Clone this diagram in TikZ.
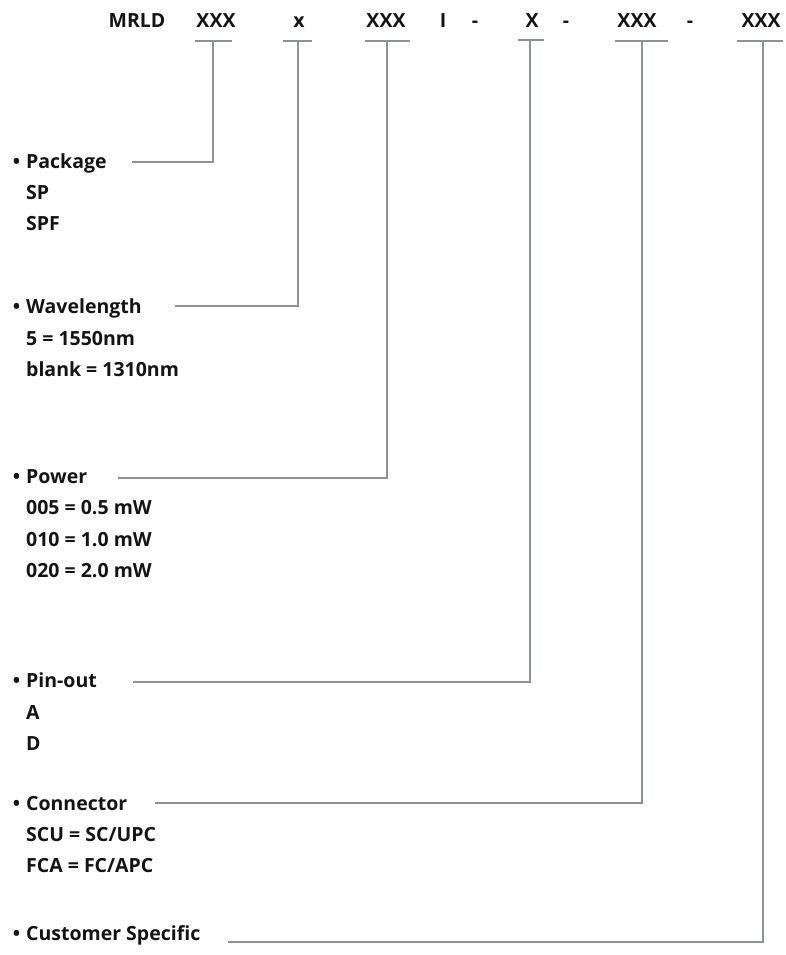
\documentclass[tikz,border=0pt]{standalone}
\usepackage{fontspec}
\setmainfont{Open Sans}
\usepackage{tikz}
\usetikzlibrary{positioning}
\definecolor{leadgray}{RGB}{140,146,152}
\definecolor{codeblack}{RGB}{20,20,20}

\begin{document}
\begin{tikzpicture}[x=1pt, y=-1pt, font=\fontsize{19.5}{22}\selectfont\bfseries, text=codeblack,
  field/.style={anchor=base, inner sep=0pt},
  item/.style={anchor=base west, inner sep=0pt},
  lead/.style={draw=leadgray, line width=1.2pt}]
\useasboundingbox (0,0) rectangle (785,955);

% part number
\node[field] (mrld) at (137,28) {MRLD};
\node[field] (pkg) at (216,28) {XXX};
\node[field] (wav) at (299,28) {x};
\node[field] (pow) at (386,28) {XXX};
\node[field] (iso) at (443,28) {I};
\node[field] (d1) at (475,28) {-};
\node[field] (pin) at (532,28) {X};
\node[field] (d2) at (566,28) {-};
\node[field] (con) at (637,28) {XXX};
\node[field] (d3) at (690,28) {-};
\node[field] (cus) at (761,28) {XXX};

% option lists
\node[item] (pkgT) at (26,168) {\llap{\textbullet\hspace{6pt}}Package};
\node[item] (sp) at (26,199) {SP};
\node[item] (spf) at (26,230) {SPF};

\node[item] (wavT) at (26,313) {\llap{\textbullet\hspace{6pt}}Wavelength};
\node[item] (w5) at (26,345) {5 = 1550nm};
\node[item] (w0) at (26,376) {blank = 1310nm};

\node[item] (powT) at (26,483) {\llap{\textbullet\hspace{6pt}}Power};
\node[item] (p5) at (26,514) {005 = 0.5 mW};
\node[item] (p10) at (26,546) {010 = 1.0 mW};
\node[item] (p20) at (26,577) {020 = 2.0 mW};

\node[item] (pinT) at (26,687) {\llap{\textbullet\hspace{6pt}}Pin-out};
\node[item] (pa) at (26,719) {A};
\node[item] (pd) at (26,750) {D};

\node[item] (conT) at (26,810) {\llap{\textbullet\hspace{6pt}}Connector};
\node[item] (scu) at (26,841) {SCU = SC/UPC};
\node[item] (fca) at (26,872) {FCA = FC/APC};

\node[item] (cusT) at (26,940) {\llap{\textbullet\hspace{6pt}}Customer Specific};

% bars under the fields
\coordinate (pkgB) at (213,41);
\coordinate (wavB) at (298,41);
\coordinate (powB) at (387,41);
\coordinate (pinB) at (530,40);
\coordinate (conB) at (642,41);
\coordinate (cusB) at (763,41);
\draw[lead] (195,41) -- (232,41);
\draw[lead] (283,41) -- (312,41);
\draw[lead] (365,41) -- (410,41);
\draw[lead] (518,40) -- (544,40);
\draw[lead] (615,41) -- (668,41);
\draw[lead] (737,41) -- (783,41);

% leader lines
\coordinate (pkgE) at (132,162);
\coordinate (wavE) at (175,306);
\coordinate (powE) at (118,478);
\coordinate (pinE) at (133,682);
\coordinate (conE) at (155,803);
\coordinate (cusE) at (228,942);
\draw[lead] (pkgB) |- (pkgE);
\draw[lead] (wavB) |- (wavE);
\draw[lead] (powB) |- (powE);
\draw[lead] (pinB) |- (pinE);
\draw[lead] (conB) |- (conE);
\draw[lead] (cusB) |- (cusE);
\end{tikzpicture}
\end{document}
